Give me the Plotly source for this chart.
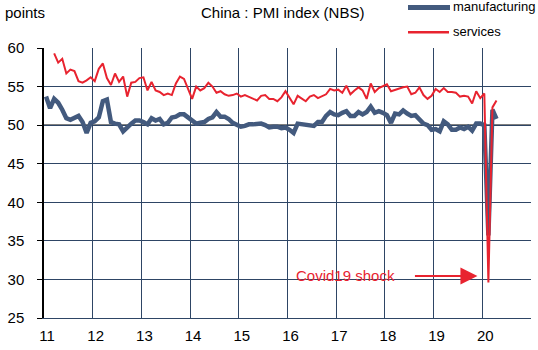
import plotly.graph_objects as go

# ---- data (monthly, NBS PMI) ----
mfg_start = (2011, 1)
manufacturing = [
    53.7, 52.2, 53.4, 52.9, 52.0, 50.9, 50.7, 50.9, 51.2, 50.4, 49.0, 50.3,
    50.5, 51.0, 53.1, 53.3, 50.4, 50.2, 50.1, 49.2, 49.8, 50.2, 50.6, 50.6,
    50.4, 50.1, 50.9, 50.6, 50.8, 50.1, 50.3, 51.0, 51.1, 51.4, 51.4, 51.0,
    50.5, 50.2, 50.3, 50.4, 50.8, 51.0, 51.7, 51.1, 51.1, 50.8, 50.3, 50.1,
    49.8, 49.9, 50.1, 50.1, 50.2, 50.2, 50.0, 49.7, 49.8, 49.8, 49.6, 49.7,
    49.4, 49.0, 50.2, 50.1, 50.1, 50.0, 49.9, 50.4, 50.4, 51.2, 51.7, 51.4,
    51.3, 51.6, 51.8, 51.2, 51.2, 51.7, 51.4, 51.7, 52.4, 51.6, 51.8, 51.6,
    51.3, 50.3, 51.5, 51.4, 51.9, 51.5, 51.2, 51.3, 50.8, 50.2, 50.0, 49.4,
    49.5, 49.2, 50.5, 50.1, 49.4, 49.4, 49.7, 49.5, 49.8, 49.3, 50.2, 50.2,
    50.0, 35.7, 52.0, 50.8,
]
svc_start = (2011, 3)
services = [
    59.3, 58.1, 58.6, 56.7, 57.2, 57.0, 55.7, 55.5, 55.8, 56.2,
    55.7, 57.3, 58.0, 56.1, 55.2, 56.7, 55.6, 56.3, 53.7, 55.5, 55.6, 56.1,
    56.2, 54.5, 55.6, 54.5, 54.3, 53.9, 54.1, 53.9, 55.4, 56.3, 56.0, 54.6,
    53.4, 55.0, 54.5, 54.8, 55.5, 55.0, 54.2, 54.4, 54.0, 53.8, 53.9, 54.1,
    53.7, 53.9, 53.7, 53.4, 53.2, 53.8, 53.9, 53.4, 53.4, 53.1, 53.6, 54.4,
    53.5, 52.7, 53.8, 53.5, 53.1, 53.7, 53.9, 53.5, 53.7, 54.0, 54.7, 54.5,
    54.6, 54.2, 55.1, 54.0, 54.5, 54.9, 54.5, 53.4, 55.4, 54.3, 54.8, 55.0,
    55.3, 54.4, 54.6, 54.8, 54.9, 55.0, 54.0, 54.2, 54.9, 53.9, 53.4, 53.8,
    54.7, 54.3, 54.8, 54.3, 54.3, 54.2, 53.7, 53.8, 53.7, 52.8, 54.4, 53.5,
    54.1, 29.6, 52.3, 53.2,
]
year_ticks = list(range(2011, 2021))
tick_labels = [str(y)[2:] for y in year_ticks]
covid_point = (2020, 2)   # month of the shock


def month_x(start, i):
    y, m = start
    m0 = (m - 1) + i
    return (y + m0 // 12) + ((m0 % 12) + 0.5) / 12.0


x_mfg = [month_x(mfg_start, i) for i in range(len(manufacturing))]
x_svc = [month_x(svc_start, i) for i in range(len(services))]

BLUE = "#435A7E"
RED = "#E8232F"
GRID = "#2E4565"
FONT = "Liberation Sans, Arial, sans-serif"

fig = go.Figure()
fig.add_trace(go.Scatter(x=x_mfg, y=manufacturing, mode="lines", name="manufacturing",
                         line=dict(color=BLUE, width=4.5), showlegend=False))
fig.add_trace(go.Scatter(x=x_svc, y=services, mode="lines", name="services",
                         line=dict(color=RED, width=2), showlegend=False))

L, R, T, B = 44, 7, 48, 32
W, H = 538, 350
pw, ph = W - L - R, H - T - B


def px(xp):
    return (xp - L) / pw


def py(yp):
    return (H - B - yp) / ph


fig.update_layout(
    width=W, height=H,
    margin=dict(l=L, r=R, t=T, b=B),
    paper_bgcolor="white", plot_bgcolor="white",
    font=dict(family=FONT, size=15, color="black"),
    xaxis=dict(range=[2011, 2021], tickvals=year_ticks + [2021], ticktext=tick_labels + [""],
               showgrid=True, gridcolor=GRID, gridwidth=1,
               showline=True, linecolor=GRID, linewidth=1, ticks="",
               zeroline=False, ticklabelshift=3, ticklabelstandoff=4,
               tickfont=dict(size=15, family=FONT, color="black")),
    yaxis=dict(range=[25, 60], dtick=5, tick0=25,
               showgrid=True, gridcolor=GRID, gridwidth=1,
               showline=True, linecolor="black", linewidth=1.5,
               ticks="outside", ticklen=5, tickcolor="black", tickwidth=1,
               zeroline=False, ticklabelstandoff=10,
               tickfont=dict(size=15, family=FONT, color="black")),
    shapes=[
        dict(type="line", xref="paper", yref="y", x0=0, x1=1, y0=50, y1=50,
             line=dict(color="black", width=1.5), layer="between"),
        # legend samples
        dict(type="line", xref="paper", yref="paper", x0=px(408), x1=px(450), y0=py(7.5), y1=py(7.5),
             line=dict(color=BLUE, width=5)),
        dict(type="line", xref="paper", yref="paper", x0=px(408), x1=px(449), y0=py(32.3), y1=py(32.3),
             line=dict(color=RED, width=2.5)),
    ],
    annotations=[
        dict(text="points", xref="paper", yref="paper", x=px(3), y=py(12), xanchor="left",
             yanchor="middle", showarrow=False, font=dict(size=15, color="black")),
        dict(text="China : PMI index (NBS)", xref="paper", yref="paper", x=px(199), y=py(12),
             xanchor="left", yanchor="middle", showarrow=False, font=dict(size=15, color="black")),
        dict(text="manufacturing", xref="paper", yref="paper", x=px(451), y=py(7), xanchor="left",
             yanchor="middle", showarrow=False, font=dict(size=13, color="black")),
        dict(text="services", xref="paper", yref="paper", x=px(451), y=py(32), xanchor="left",
             yanchor="middle", showarrow=False, font=dict(size=13, color="black")),
        dict(text="Covid19 shock", xref="paper", yref="paper", x=px(294), y=py(275), xanchor="left",
             yanchor="middle", showarrow=False, font=dict(size=15, color=RED)),
        dict(text="", xref="x", yref="y", x=covid_point[0] - 0.1, y=30.45,
             showarrow=True, ax=-64, ay=0, axref="pixel", ayref="pixel",
             arrowhead=2, arrowsize=1.7, arrowwidth=2, arrowcolor=RED),
    ],
)

fig.write_html("out.html")
